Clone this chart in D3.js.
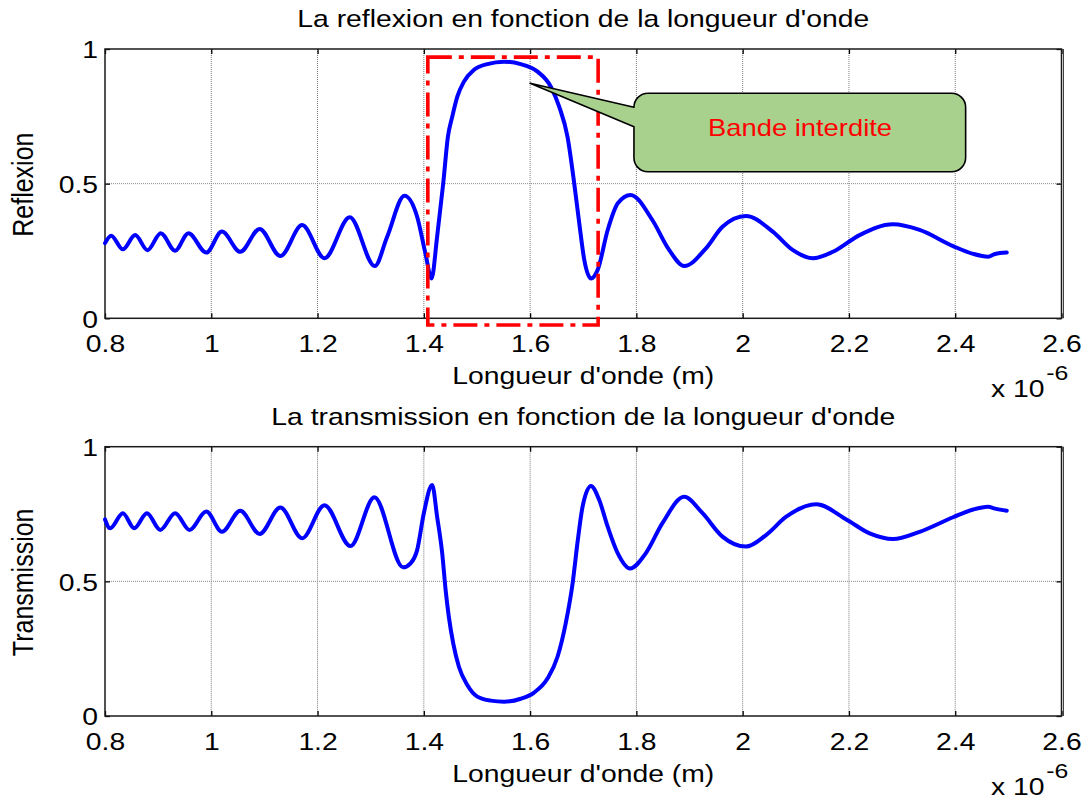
<!DOCTYPE html>
<html>
<head>
<meta charset="utf-8">
<script src="https://cdn.jsdelivr.net/npm/d3@7"></script>
<style>
  body { margin: 0; background: #fff; }
  svg text { font-family: "Liberation Sans", Arial, Helvetica, sans-serif; fill: #000; }
</style>
</head>
<body>
<svg id="chart" width="1091" height="801"></svg>
<script>
// ---------------- data (wavelength in µm, i.e. ×10^-6 m) ----------------
const xTicks = [0.8, 1.0, 1.2, 1.4, 1.6, 1.8, 2.0, 2.2, 2.4, 2.6];
const yTicks = [0, 0.5, 1];
const xTickLabels = ["0.8", "1", "1.2", "1.4", "1.6", "1.8", "2", "2.2", "2.4", "2.6"];
const yTickLabels = ["0", "0.5", "1"];

const lambdaR = [0.800, 0.8116, 0.8336, 0.8568, 0.880, 0.905, 0.932, 0.957, 0.9906, 1.020,
  1.0546, 1.091, 1.130, 1.171, 1.213, 1.2606, 1.3077, 1.331, 1.3636, 1.3874, 1.403,
  1.4145, 1.425, 1.4365, 1.4453, 1.4535, 1.463, 1.4755, 1.494, 1.5195, 1.551, 1.5824,
  1.614, 1.639, 1.6547, 1.6704, 1.683, 1.6925, 1.702, 1.7145, 1.727, 1.746, 1.765,
  1.789, 1.830, 1.8616, 1.890, 1.931, 1.962, 2.006, 2.0566, 2.094, 2.132, 2.170,
  2.220, 2.283, 2.333, 2.396, 2.434, 2.462, 2.475, 2.497];
const reflexion = [0.279, 0.307, 0.256, 0.309, 0.253, 0.316, 0.251, 0.316, 0.244, 0.322,
  0.247, 0.332, 0.231, 0.346, 0.223, 0.375, 0.194, 0.303, 0.455, 0.377, 0.241,
  0.148, 0.303, 0.501, 0.674, 0.749, 0.823, 0.879, 0.922, 0.944, 0.953, 0.944,
  0.916, 0.860, 0.786, 0.674, 0.501, 0.353, 0.216, 0.148, 0.179, 0.328, 0.427,
  0.458, 0.365, 0.254, 0.194, 0.260, 0.340, 0.380, 0.322, 0.254, 0.223, 0.247,
  0.309, 0.349, 0.328, 0.268, 0.239, 0.229, 0.239, 0.244];

const lambdaT = [0.800, 0.8097, 0.8336, 0.855, 0.8788, 0.904, 0.932, 0.959, 0.9906, 1.020,
  1.0546, 1.091, 1.130, 1.171, 1.213, 1.262, 1.307, 1.361, 1.375, 1.3874, 1.400,
  1.4157, 1.425, 1.4346, 1.441, 1.447, 1.4553, 1.466, 1.4818, 1.5006, 1.5258, 1.551,
  1.5824, 1.6075, 1.633, 1.6516, 1.667, 1.680, 1.689, 1.6987, 1.7145, 1.730, 1.746,
  1.765, 1.788, 1.8176, 1.849, 1.890, 1.9245, 1.962, 2.006, 2.044, 2.082, 2.1384,
  2.195, 2.239, 2.283, 2.333, 2.396, 2.434, 2.462, 2.475, 2.497];
const transmission = [0.730, 0.697, 0.753, 0.697, 0.753, 0.691, 0.753, 0.691, 0.759, 0.684,
  0.762, 0.676, 0.774, 0.660, 0.783, 0.631, 0.812, 0.552, 0.567, 0.616, 0.753,
  0.858, 0.740, 0.604, 0.468, 0.369, 0.270, 0.183, 0.115, 0.072, 0.057, 0.053,
  0.064, 0.087, 0.140, 0.220, 0.344, 0.493, 0.641, 0.777, 0.854, 0.802, 0.703,
  0.604, 0.548, 0.604, 0.716, 0.814, 0.753, 0.666, 0.629, 0.672, 0.740, 0.786,
  0.730, 0.678, 0.657, 0.684, 0.738, 0.767, 0.777, 0.770, 0.762];

const titles = ["La reflexion en fonction de la longueur d'onde",
                "La transmission en fonction de la longueur d'onde"];
const yLabels = ["Reflexion", "Transmission"];
const xLabel = "Longueur d'onde (m)";
const exponentBase = "x 10";
const exponentPower = "-6";

// annotation (data units of the top panel)
const bandRect = [1.4075, 1.728, -0.025, 0.970];          // x0, x1, y0, y1
const calloutText = "Bande interdite";
const calloutTip = [1.600, 0.873];
const calloutBox = [1.7954, 2.4196, 0.8355, 0.5444];     // x0, x1, yTop, yBottom
const calloutBase = [0.7835, 0.7115];                    // pointer base on box left edge
const calloutLabelPos = [2.108, 0.677];

// ---------------- layout ----------------
const svg = d3.select("#chart");
const left = 105, right = 1061.5;
const panels = [
  { top: 49, bottom: 318.3, xs: lambdaR, ys: reflexion },
  { top: 446.7, bottom: 716, xs: lambdaT, ys: transmission }
];
const SX = 1.18;            // horizontal stretch of text found in the reference
const FS = 24;

const x = d3.scaleLinear().domain([0.8, 2.6]).range([left, right]);

panels.forEach((p, i) => {
  const y = d3.scaleLinear().domain([0, 1]).range([p.bottom, p.top]);
  p.y = y;
  const g = svg.append("g");

  // grid
  g.append("g").selectAll("line").data(xTicks.slice(1, -1)).join("line")
    .attr("x1", d => x(d)).attr("x2", d => x(d))
    .attr("y1", p.top).attr("y2", p.bottom)
    .attr("stroke", "#7a7a7a").attr("stroke-width", 1).attr("stroke-dasharray", "1,1");
  g.append("g").selectAll("line").data(yTicks.slice(1, -1)).join("line")
    .attr("x1", left).attr("x2", right)
    .attr("y1", d => y(d)).attr("y2", d => y(d))
    .attr("stroke", "#8a8a8a").attr("stroke-width", 1).attr("stroke-dasharray", "1,1");

  // axes
  const fmtX = d => xTickLabels[xTicks.indexOf(d)];
  const fmtY = d => yTickLabels[yTicks.indexOf(d)];
  const ab = g.append("g").attr("transform", `translate(0,${p.bottom})`)
    .call(d3.axisBottom(x).tickValues(xTicks).tickFormat(fmtX).tickSize(-5).tickPadding(17));
  const at = g.append("g").attr("transform", `translate(0,${p.top})`)
    .call(d3.axisTop(x).tickValues(xTicks).tickFormat("").tickSize(-5));
  const al = g.append("g").attr("transform", `translate(${left},0)`)
    .call(d3.axisLeft(y).tickValues(yTicks).tickFormat(fmtY).tickSize(-5).tickPadding(7));
  const ar = g.append("g").attr("transform", `translate(${right},0)`)
    .call(d3.axisRight(y).tickValues(yTicks).tickFormat("").tickSize(-5));
  [ab, at, al, ar].forEach(a => {
    a.select(".domain").remove();
    a.selectAll(".tick line").attr("stroke", "#000").attr("stroke-width", 1.3);
    a.selectAll("text").attr("font-size", FS).attr("font-family", "Liberation Sans, Arial, sans-serif")
      .attr("fill", "#000");
  });
  ab.selectAll(".tick text").attr("transform", `scale(${SX},1)`);
  al.selectAll(".tick text").attr("x", -7 / SX).attr("dy", "0.37em").attr("transform", `scale(${SX},1)`);

  // box
  g.append("rect").attr("x", left).attr("y", p.top)
    .attr("width", right - left).attr("height", p.bottom - p.top)
    .attr("fill", "none").attr("stroke", "#1a1a1a").attr("stroke-width", 1.5);
  g.append("line").attr("x1", right + 2).attr("x2", right + 2)
    .attr("y1", p.top).attr("y2", p.bottom)
    .attr("stroke", "#444").attr("stroke-width", 1);

  // curve
  const line = d3.line().x(d => x(d[0])).y(d => y(d[1])).curve(d3.curveMonotoneX);
  g.append("path").datum(d3.zip(p.xs, p.ys))
    .attr("d", line)
    .attr("fill", "none").attr("stroke", "#0000ff").attr("stroke-width", 4)
    .attr("stroke-linejoin", "round").attr("stroke-linecap", "round");

  // title
  const cx = (left + right) / 2;
  svg.append("text").attr("transform", `translate(${cx},${p.top - 22}) scale(${SX},1)`)
    .attr("text-anchor", "middle").attr("font-size", FS).text(titles[i]);
  // x label
  svg.append("text").attr("transform", `translate(${cx},${p.bottom + 66}) scale(${SX},1)`)
    .attr("text-anchor", "middle").attr("font-size", FS).text(xLabel);
  // exponent
  const ex = svg.append("text").attr("transform", `translate(991,${p.bottom + 79}) scale(${SX},1)`)
    .attr("font-size", FS);
  ex.append("tspan").text(exponentBase);
  ex.append("tspan").attr("dx", 1.5).attr("dy", -17).attr("font-size", 21).text(exponentPower);
  // y label
  svg.append("text")
    .attr("transform", `translate(33,${(p.top + p.bottom) / 2 + 1}) rotate(-90) scale(1,${SX})`)
    .attr("text-anchor", "middle").attr("font-size", 25).text(yLabels[i]);
});

// ---------------- annotations on top panel ----------------
const yT = panels[0].y;
svg.append("rect")
  .attr("x", x(bandRect[0])).attr("y", yT(bandRect[3]))
  .attr("width", x(bandRect[1]) - x(bandRect[0]))
  .attr("height", yT(bandRect[2]) - yT(bandRect[3]))
  .attr("fill", "none").attr("stroke", "#ff0000").attr("stroke-width", 3.6)
  .attr("stroke-dasharray", "24,7,5,7");

{
  const x0 = x(calloutBox[0]), x1 = x(calloutBox[1]);
  const y0 = yT(calloutBox[2]), y1 = yT(calloutBox[3]);
  const r = 14;
  const tx = x(calloutTip[0]), ty = yT(calloutTip[1]);
  const ya = yT(calloutBase[0]), yb = yT(calloutBase[1]);
  const path = d3.path();
  path.moveTo(x0 + r, y0);
  path.lineTo(x1 - r, y0);
  path.arcTo(x1, y0, x1, y0 + r, r);
  path.lineTo(x1, y1 - r);
  path.arcTo(x1, y1, x1 - r, y1, r);
  path.lineTo(x0 + r, y1);
  path.arcTo(x0, y1, x0, y1 - r, r);
  path.lineTo(x0, yb);
  path.lineTo(tx, ty);
  path.lineTo(x0, ya);
  path.lineTo(x0, y0 + r);
  path.arcTo(x0, y0, x0 + r, y0, r);
  path.closePath();
  svg.append("path").attr("d", path.toString())
    .attr("fill", "#a9d18e").attr("stroke", "#000").attr("stroke-width", 1.6)
    .attr("stroke-linejoin", "round");
  svg.append("text")
    .attr("x", x(calloutLabelPos[0])).attr("y", yT(calloutLabelPos[1]))
    .attr("text-anchor", "middle")
    .attr("font-family", "Lato, 'Open Sans', sans-serif")
    .attr("font-size", 24)
    .attr("textLength", 184).attr("lengthAdjust", "spacingAndGlyphs")
    .style("fill", "#ff0000")
    .text(calloutText);
}
</script>
</body>
</html>
